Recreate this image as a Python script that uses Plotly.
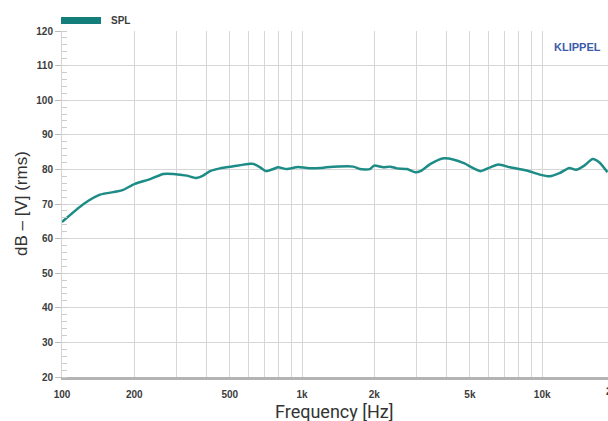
import numpy as np
import plotly.graph_objects as go

freq_hz = [100, 123, 144, 169, 180, 201, 233, 264, 291, 331, 362, 387, 414, 455, 518, 607, 625,
           669, 708, 758, 795, 862, 963, 1046, 1188, 1264, 1634, 1740, 1917, 1993, 2180, 2326,
           2482, 2736, 2962, 3110, 3429, 3897, 4290, 4719, 5531, 6080, 6579, 7356, 8615, 9778,
           10746, 11803, 12962, 13827, 14974, 16225, 17313, 18700]
spl_db = [64.8, 70.0, 72.7, 73.6, 74.1, 75.8, 77.2, 78.7, 78.7, 78.2, 77.5, 78.2, 79.5, 80.3, 80.9,
          81.6, 81.6, 80.6, 79.5, 80.1, 80.6, 80.1, 80.7, 80.4, 80.4, 80.6, 80.8, 80.1, 80.1, 81.1,
          80.6, 80.8, 80.3, 80.1, 79.2, 79.5, 81.6, 83.2, 82.8, 81.8, 79.5, 80.6, 81.4, 80.6, 79.7,
          78.5, 78.0, 78.9, 80.4, 79.9, 81.1, 83.0, 82.0, 79.2]

grid_freqs = [m * 10 ** e for e in (2, 3, 4) for m in range(1, 10)]
label_map = {100: "100", 200: "200", 500: "500", 1000: "1k", 2000: "2k", 5000: "5k", 10000: "10k"}
grid_text = [f"<b>{label_map[f]}</b>" if f in label_map else "" for f in grid_freqs]
y_ticks = list(range(20, 121, 10))
y_text = [f"<b>{v}</b>" for v in y_ticks]

TEAL = "#1d8c86"

fig = go.Figure()
fig.add_trace(go.Scatter(x=freq_hz, y=spl_db, mode="lines", name="SPL",
                         line=dict(color=TEAL, width=2.5, shape="spline", smoothing=0.6),
                         showlegend=False, hoverinfo="skip"))

tickfont = dict(family="Liberation Sans, Arial, sans-serif", size=10, color="#3c3c3c")

fig.update_layout(
    width=608, height=421,
    margin=dict(l=62, r=0, t=31, b=44),
    paper_bgcolor="white", plot_bgcolor="white",
    xaxis=dict(type="log", range=[2, np.log10(18800)],
               tickmode="array", tickvals=grid_freqs, ticktext=grid_text,
               showgrid=True, gridcolor="#d6d6d6", gridwidth=1,
               showline=True, linecolor="#b4b4b4", linewidth=3,
               ticks="outside", ticklen=6, tickcolor="rgba(0,0,0,0)",
               tickfont=tickfont, zeroline=False),
    yaxis=dict(range=[20, 120], tickmode="array", tickvals=y_ticks, ticktext=y_text,
               showgrid=True, gridcolor="#d6d6d6", gridwidth=1,
               showline=True, linecolor="#d6d6d6", linewidth=1,
               ticks="outside", ticklen=6, tickcolor="#bbbbbb",
               minor=dict(dtick=2, tick0=20, ticks="inside", ticklen=5, tickcolor="#cccccc", showgrid=False),
               tickfont=tickfont, zeroline=False),
)

fig.add_shape(type="rect", xref="paper", yref="paper",
              x0=(61 - 62) / 546, x1=(101 - 62) / 546,
              y0=(377 - 24) / 346, y1=(377 - 17) / 346,
              fillcolor="#147f7a", line=dict(width=0))
fig.add_annotation(xref="paper", yref="paper", x=(109 - 62) / 546, y=(377 - 20.5) / 346,
                   text="<b>SPL</b>", showarrow=False, xanchor="left", yanchor="middle",
                   font=dict(family="Liberation Sans, Arial, sans-serif", size=10, color="#3c3c3c"))
fig.add_annotation(xref="paper", yref="paper", x=(603 - 62) / 546, y=(377 - 47) / 346,
                   text="<b>KLIPPEL</b>", showarrow=False, xanchor="right", yanchor="middle",
                   font=dict(family="Liberation Sans, Arial, sans-serif", size=11, color="#3b5ba8"))
fig.add_annotation(xref="paper", yref="paper", x=(21 - 62) / 546, y=(377 - 204) / 346,
                   text="dB – [V] (rms)", showarrow=False, textangle=-90,
                   xanchor="center", yanchor="middle",
                   font=dict(family="Liberation Sans, Arial, sans-serif", size=17, color="#333333"))
fig.add_annotation(xref="paper", yref="paper", x=(334 - 62) / 546, y=(377 - 411) / 346,
                   text="Frequency [Hz]", showarrow=False,
                   xanchor="center", yanchor="middle",
                   font=dict(family="Liberation Sans Narrow, Roboto, sans-serif", size=18, color="#333333"))
fig.add_annotation(xref="paper", yref="paper", x=(614 - 62) / 546, y=(377 - 391.5) / 346,
                   text="<b>20k</b>", showarrow=False, xanchor="center", yanchor="middle",
                   font=tickfont)

fig.write_html("out.html", config={"displayModeBar": False})
with open("out.html", encoding="utf-8") as fh:
    html = fh.read()
html = html.replace("<head>", "<head><style>html,body{margin:0;padding:0;overflow:hidden;}</style>", 1)
with open("out.html", "w", encoding="utf-8") as fh:
    fh.write(html)
